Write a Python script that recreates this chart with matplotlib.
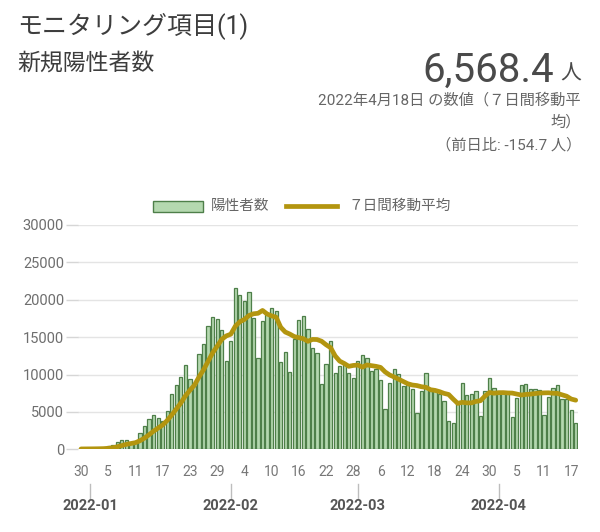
import matplotlib
matplotlib.use("Agg")
import matplotlib.pyplot as plt
import matplotlib.transforms as mtransforms
from matplotlib.patches import Rectangle
from matplotlib.lines import Line2D

plt.rcParams['font.family'] = ['Roboto', 'Noto Sans CJK JP', 'DejaVu Sans']

# ---------------- data (2021-12-30 .. 2022-04-18) ----------------
cases = [
    64, 78, 79, 84, 103, 151, 390, 641, 922, 1224,
    1223, 871, 962, 2198, 3124, 4051, 4561, 4172, 3719, 5185,
    7377, 8638, 9699, 11227, 9468, 8503, 12813, 14086, 16538, 17631,
    17433, 15895, 11751, 14445, 21576, 20679, 19798, 21100, 17526, 12214,
    17113, 18287, 18891, 18490, 11740, 13070, 10310, 14730, 17320, 17850,
    16070, 13530, 12940, 8750, 11430, 14550, 10180, 11160, 11350, 10270,
    9580, 11780, 12630, 12190, 10510, 10710, 9280, 5360, 8900, 10750,
    10060, 8430, 8610, 8080, 4850, 7810, 10180, 7830, 7810, 7410,
    6470, 3830, 3480, 6160, 8840, 7270, 7390, 7830, 4500, 7830,
    9510, 8170, 7750, 7500, 7500, 4380, 6920, 8590, 8720, 8040,
    8040, 7940, 4580, 7000, 8160, 8570, 6700, 6750, 5300, 3500,
]
moving_avg = [
    47, 53, 59, 65, 76, 91, 136, 218, 339, 502,
    665, 775, 890, 1149, 1503, 1950, 2427, 2848, 3255, 3859,
    4598, 5386, 6193, 7145, 7902, 8585, 9675, 10633, 11762, 12895,
    13782, 14700, 15164, 15397, 16467, 17059, 17368, 17892, 18125, 18191,
    18572, 18102, 17847, 17660, 16323, 15686, 15414, 15074, 14936, 14787,
    14441, 14697, 14679, 14456, 13984, 13589, 12493, 11791, 11480, 11099,
    11217, 11267, 10993, 11280, 11187, 11096, 10954, 10351, 9940, 9671,
    9367, 9070, 8770, 8599, 8526, 8370, 8289, 7970, 7881, 7710,
    7480, 7334, 6716, 6141, 6286, 6209, 6206, 6400, 6496, 7117,
    7596, 7500, 7569, 7584, 7537, 7520, 7390, 7259, 7337, 7379,
    7456, 7519, 7547, 7559, 7497, 7476, 7284, 7100, 6723, 6568,
]
day_tick_pos = [0, 6, 12, 18, 24, 30, 36, 42, 48, 54, 60, 66, 72, 78, 84, 90, 96, 102, 108]
day_tick_labels = ['30', '5', '11', '17', '23', '29', '4', '10', '16', '22', '28',
                   '6', '12', '18', '24', '30', '5', '11', '17']
month_pos = [2, 33, 61, 92]
month_labels = ['2022-01', '2022-02', '2022-03', '2022-04']
y_ticks = [0, 5000, 10000, 15000, 20000, 25000, 30000]

title = 'モニタリング項目(1)'
subtitle = '新規陽性者数'
big_value = '6,568.4'
unit = '人'
note1 = '2022年4月18日 の数値（７日間移動平'
note2 = '均）'
note3 = '（前日比: -154.7 人）'
legend_bar = '陽性者数'
legend_line = '７日間移動平均'

bar_face = '#b4d8af'
bar_edge = '#4e7f49'
line_color = '#b3950f'

# ---------------- figure ----------------
W, H = 600, 532
fig = plt.figure(figsize=(W / 100, H / 100), dpi=100)
fig.patch.set_facecolor('white')

def fx(x):
    return x / W

def fy(y):
    return 1 - y / H

ax_left, ax_right, ax_top, ax_bottom = 78, 578, 225, 449.3
ax = fig.add_axes([fx(ax_left), fy(ax_bottom), (ax_right - ax_left) / W, (ax_bottom - ax_top) / H])

days = list(range(len(cases)))
ax.bar(days, cases, width=0.72, color=bar_face, edgecolor=bar_edge, linewidth=0.9, zorder=2)
ax.plot(days, moving_avg, color=line_color, lw=3.4, zorder=3, solid_capstyle='round',
        solid_joinstyle='round')

ax.set_xlim(-0.66, 109.5)
ax.set_ylim(0, 30000)
ax.set_yticks(y_ticks)
ax.set_yticklabels([str(v) for v in y_ticks])
ax.grid(axis='y', color='#e4e4e4', lw=1, zorder=0)
ax.set_axisbelow(True)
for s in ax.spines.values():
    s.set_visible(False)
ax.tick_params(axis='y', length=9, width=1, color='#d6d6d6', labelcolor='#6e6e6e',
               labelsize=10.5, pad=1)
ax.set_xticks(day_tick_pos)
ax.set_xticklabels(day_tick_labels)
ax.tick_params(axis='x', length=0, pad=11, labelcolor='#777777', labelsize=10)

# month labels under the axis
trans = mtransforms.blended_transform_factory(ax.transData, ax.transAxes)
h_ax = ax_bottom - ax_top
def af(ypix):
    return (ax_bottom - ypix) / h_ax
for d, lab in zip(month_pos, month_labels):
    ax.add_line(Line2D([d, d], [af(484), af(498)], transform=trans, color='#bdbdbd',
                       lw=1, clip_on=False))
    ax.text(d, af(506), lab, transform=trans, ha='center', va='center',
            fontsize=10.5, fontweight='bold', color='#555555', clip_on=False)

# ---------------- header ----------------
fig.text(fx(17), fy(26), title, fontsize=18, color='#3d3d3d', ha='left', va='center')
fig.text(fx(17), fy(63), subtitle, fontsize=16.5, color='#3d3d3d', ha='left', va='center')
fig.text(fx(554), fy(82), big_value, fontsize=29, color='#4a4a4a', ha='right', va='baseline')
fig.text(fx(581), fy(80), unit, fontsize=15, color='#4a4a4a', ha='right', va='baseline')
fig.text(fx(581), fy(100), note1, fontsize=11, color='#666666', ha='right', va='center')
fig.text(fx(581), fy(122), note2, fontsize=11, color='#666666', ha='right', va='center')
fig.text(fx(581), fy(145), note3, fontsize=11, color='#666666', ha='right', va='center')

# ---------------- legend ----------------
fig.add_artist(Rectangle((fx(153), fy(212)), (203 - 153) / W, 11 / H, transform=fig.transFigure,
                         facecolor=bar_face, edgecolor=bar_edge, lw=1))
fig.text(fx(211), fy(206), legend_bar, fontsize=10.5, color='#666666', ha='left', va='center')
fig.add_artist(Line2D([fx(286), fx(337)], [fy(206), fy(206)], transform=fig.transFigure,
                      color=line_color, lw=3.4))
fig.text(fx(348), fy(206), legend_line, fontsize=10.5, color='#666666', ha='left', va='center')

fig.savefig('out.png', dpi=100, facecolor='white')
